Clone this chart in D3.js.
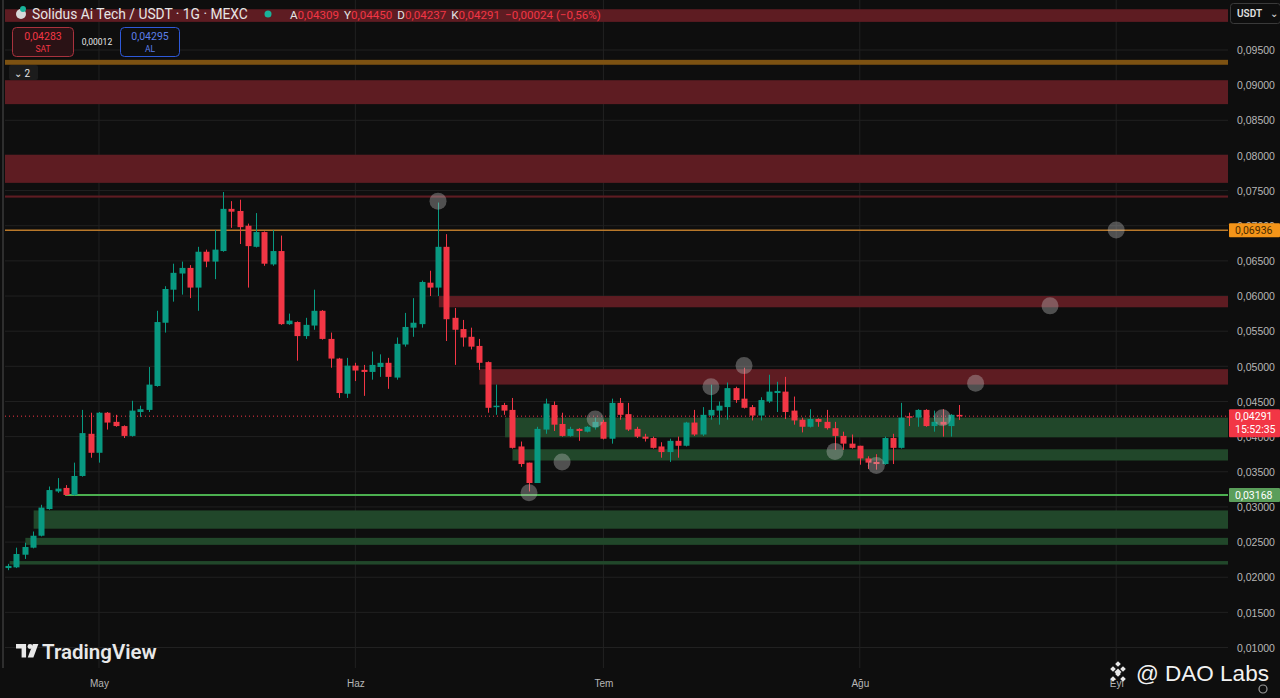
<!DOCTYPE html>
<html><head><meta charset="utf-8">
<script src="https://cdn.jsdelivr.net/npm/d3@7"></script>
<style>
html,body{margin:0;padding:0;background:#0e0e0e;overflow:hidden}
svg{display:block;font-family:Roboto,"Liberation Sans",Arial,sans-serif}
</style></head>
<body>
<svg id="chart" width="1280" height="698"></svg>
<script>
// ---------- DATA ----------
const startDay = "2024-04-20";
const openV  = [.0213,.0214,.0232,.0242,.0259,.0297,.0322,.0327,.0317,.0344,.0404,.0377,.0434,.0421,.0415,.0401,.0435,.0438,.0472,.0562,.0609,.0632,.0640,.0612,.0663,.0649,.0664,.0724,.0721,.0700,.0670,.0691,.0645,.0664,.0560,.0563,.0543,.0558,.0579,.0539,.0511,.0461,.0501,.0495,.0492,.0499,.0505,.0484,.0531,.0555,.0560,.0619,.0612,.0670,.0569,.0553,.0542,.0529,.0506,.0442,.0445,.0438,.0386,.0363,.0334,.0410,.0445,.0418,.0401,.0411,.0407,.0413,.0421,.0397,.0448,.0432,.0411,.0400,.0398,.0386,.0378,.0394,.0387,.0420,.0403,.0430,.0437,.0442,.0469,.0454,.0442,.0430,.0450,.0462,.0464,.0437,.0424,.0414,.0425,.0421,.0412,.0401,.0390,.0387,.0369,.0364,.0361,.0398,.0384,.0429,.0427,.0438,.0415,.0421,.0415,.04309];
const highV  = [.0219,.0242,.0249,.0265,.0303,.0329,.0341,.0331,.0363,.0438,.0434,.0435,.0435,.0431,.0416,.0451,.0444,.0499,.0579,.0614,.0646,.0649,.0644,.0670,.0666,.0694,.0748,.0735,.0737,.0703,.0718,.0692,.0694,.0686,.0575,.0564,.0569,.0609,.0580,.0548,.0512,.0512,.0505,.0502,.0521,.0517,.0512,.0541,.0576,.0597,.0622,.0636,.0733,.0688,.0583,.0566,.0555,.0539,.0507,.0474,.0448,.0455,.0393,.0363,.0414,.0454,.0450,.0434,.0414,.0412,.0415,.0427,.0424,.0454,.0455,.0448,.0414,.0404,.0400,.0392,.0397,.0400,.0421,.0438,.0442,.0474,.0450,.0477,.0471,.0498,.0445,.0456,.0488,.0478,.0485,.0457,.0427,.0439,.0426,.0438,.0421,.0407,.0403,.0387,.0372,.0375,.0400,.0404,.0448,.0434,.0439,.0439,.0437,.0439,.0432,.04450];
const lowV   = [.0210,.0213,.0226,.0241,.0258,.0296,.0320,.0316,.0316,.0343,.0370,.0363,.0410,.0414,.0398,.0400,.0428,.0435,.0471,.0548,.0592,.0602,.0597,.0579,.0641,.0624,.0663,.0697,.0674,.0612,.0669,.0643,.0643,.0559,.0559,.0508,.0539,.0552,.0538,.0498,.0455,.0455,.0479,.0458,.0481,.0485,.0468,.0481,.0528,.0542,.0555,.0600,.0600,.0536,.0502,.0528,.0524,.0495,.0434,.0431,.0431,.0383,.0357,.0322,.0334,.0404,.0408,.0400,.0400,.0394,.0406,.0410,.0396,.0390,.0424,.0408,.0398,.0393,.0383,.0370,.0364,.0370,.0386,.0401,.0401,.0424,.0417,.0424,.0448,.0440,.0423,.0423,.0448,.0435,.0425,.0417,.0406,.0413,.0414,.0410,.0381,.0381,.0383,.0360,.0354,.0353,.0360,.0361,.0383,.0415,.0414,.0414,.0407,.0400,.0400,.04237];
const closeV = [.0216,.0233,.0243,.0259,.0299,.0324,.0326,.0317,.0344,.0405,.0377,.0434,.0420,.0415,.0401,.0437,.0439,.0474,.0563,.0610,.0633,.0640,.0612,.0663,.0649,.0666,.0724,.0720,.0698,.0671,.0691,.0646,.0664,.0560,.0565,.0543,.0559,.0579,.0539,.0511,.0462,.0501,.0494,.0492,.0502,.0505,.0485,.0532,.0556,.0562,.0620,.0612,.0670,.0567,.0552,.0541,.0528,.0505,.0441,.0444,.0437,.0384,.0361,.0334,.0411,.0447,.0417,.0401,.0411,.0408,.0414,.0421,.0397,.0448,.0431,.0410,.0400,.0397,.0384,.0378,.0394,.0387,.0420,.0403,.0431,.0438,.0444,.0469,.0452,.0441,.0430,.0452,.0464,.0465,.0435,.0423,.0414,.0425,.0421,.0412,.0401,.0390,.0384,.0369,.0363,.0361,.0398,.0384,.0427,.0427,.0438,.0415,.0421,.0417,.0431,.04291];

const priceTicks = [0.095,0.09,0.085,0.08,0.075,0.07,0.065,0.06,0.055,0.05,0.045,0.04,0.035,0.03,0.025,0.02,0.015,0.01];
const monthTickDays = ["2024-05-01","2024-06-01","2024-07-01","2024-08-01","2024-09-01"];
const monthLabels = ["May","Haz","Tem","Ağu","Eyl"];

// zones: [top price, bottom price, start candle index (null = full width)]
const redZones   = [[0.1008,0.0990,null],[0.0907,0.0873,null],[0.0801,0.0761,null],[0.0743,0.0740,null],[0.0600,0.0584,52.1],[0.0496,0.0474,57]];
const orangeZones= [[0.0936,0.0929,null]];
const greenZones = [[0.0427,0.0399,60.1],[0.0382,0.0366,61],[0.0295,0.0269,3.1],[0.0256,0.0246,2.1],[0.0223,0.0218,0.2]];
const orangeLevel = 0.06936;
const greenLevel = 0.03168; const greenLevelStart = 6.9;
const lastPrice = 0.04291;
// marker circles: [candle index, price]
const markers = [[52,0.0735],[63,0.0320],[67,0.0364],[71,0.0425],[85,0.0471],[89,0.0501],[100,0.0379],[105,0.0359],[113,0.0427],[117,0.0476],[126,0.0586],[134,0.0694]];

// ---------- SCALES ----------
const W = 1280, H = 698, plotR = 1228, plotB = 668, plotL = 5;
const day = 864e5;
const t0 = Date.parse(startDay + "T00:00:00Z");
const dates = openV.map((_, i) => new Date(t0 + i * day));
const idxDate = i => new Date(t0 + i * day);
const x = d3.scaleUtc()
  .domain([idxDate(-8/8.27), idxDate((plotR - 8)/8.27)])
  .range([0, plotR]);
const y = d3.scaleLinear().domain([0.01, 0.095]).range([647.5, 50]);
const fmt = v => v.toFixed(5).replace('.', ',');

const svg = d3.select("#chart");
svg.append("rect").attr("width", W).attr("height", H).attr("fill", "#0e0e0e");

// grid
const g = svg.append("g");
g.selectAll("line.hg").data(priceTicks).join("line")
  .attr("x1", plotL).attr("x2", plotR).attr("y1", d => y(d)).attr("y2", d => y(d))
  .attr("stroke", "#212121").attr("stroke-width", 1);
g.selectAll("line.vg").data(monthTickDays).join("line")
  .attr("x1", d => x(new Date(d + "T00:00:00Z"))).attr("x2", d => x(new Date(d + "T00:00:00Z")))
  .attr("y1", 0).attr("y2", plotB)
  .attr("stroke", "#212121").attr("stroke-width", 1);

// zones
function zoneX(s){ return s === null ? plotL : x(idxDate(s)); }
const zg = svg.append("g");
zg.selectAll("rect.red").data(redZones).join("rect")
  .attr("x", d => zoneX(d[2])).attr("width", d => plotR - zoneX(d[2]))
  .attr("y", d => y(d[0])).attr("height", d => Math.max(2, y(d[1]) - y(d[0])))
  .attr("fill", "#5e1c22");
zg.selectAll("rect.or").data(orangeZones).join("rect")
  .attr("x", d => zoneX(d[2])).attr("width", d => plotR - zoneX(d[2]))
  .attr("y", d => y(d[0])).attr("height", d => y(d[1]) - y(d[0]))
  .attr("fill", "#7d5212");
zg.selectAll("rect.gr").data(greenZones).join("rect")
  .attr("x", d => zoneX(d[2])).attr("width", d => plotR - zoneX(d[2]))
  .attr("y", d => y(d[0])).attr("height", d => y(d[1]) - y(d[0]))
  .attr("fill", "#21472a");
zg.append("line").attr("x1", plotL).attr("x2", plotR)
  .attr("y1", y(orangeLevel)).attr("y2", y(orangeLevel))
  .attr("stroke", "#b8782a").attr("stroke-width", 1.5);
zg.append("line").attr("x1", x(idxDate(greenLevelStart))).attr("x2", plotR)
  .attr("y1", y(greenLevel)).attr("y2", y(greenLevel))
  .attr("stroke", "#4caf50").attr("stroke-width", 2);
zg.append("line").attr("x1", plotL).attr("x2", plotR)
  .attr("y1", y(lastPrice)).attr("y2", y(lastPrice))
  .attr("stroke", "#f23645").attr("stroke-width", 1).attr("stroke-dasharray", "1,3");

// candles
const up = "#089981", dn = "#f23645";
const cg = svg.append("g");
const cdata = dates.map((d, i) => ({d, o: openV[i], h: highV[i], l: lowV[i], c: closeV[i]}));
cg.selectAll("line.w").data(cdata).join("line")
  .attr("x1", d => Math.round(x(d.d)) + 0.5).attr("x2", d => Math.round(x(d.d)) + 0.5)
  .attr("y1", d => y(d.h)).attr("y2", d => y(d.l))
  .attr("stroke", d => d.c >= d.o ? up : dn).attr("stroke-width", 1);
cg.selectAll("rect.b").data(cdata).join("rect")
  .attr("x", d => Math.round(x(d.d)) - 2.5).attr("width", 6)
  .attr("y", d => y(Math.max(d.o, d.c)))
  .attr("height", d => Math.max(1.5, Math.abs(y(d.o) - y(d.c))))
  .attr("fill", d => d.c >= d.o ? up : dn);

// markers
svg.append("g").selectAll("circle").data(markers).join("circle")
  .attr("cx", d => x(idxDate(d[0]))).attr("cy", d => y(d[1])).attr("r", 8.5)
  .attr("fill", "rgba(190,190,190,0.38)");

// left border
svg.append("rect").attr("x", 2).attr("y", 0).attr("width", 2).attr("height", plotB).attr("fill", "#2e2e2e");

// price axis
const yAxis = d3.axisRight(y).tickValues(priceTicks).tickFormat(fmt).tickSize(0).tickPadding(0);
const ya = svg.append("g").attr("transform", `translate(${plotR + 9},0)`).call(yAxis);
ya.select(".domain").remove();
ya.selectAll("text").attr("fill", "#b7b7b7").attr("font-size", 10.5).attr("dy", "0.35em");

// time axis
const xAxis = d3.axisBottom(x).tickValues(monthTickDays.map(d => new Date(d + "T00:00:00Z")))
  .tickFormat((d, i) => monthLabels[i]).tickSize(0).tickPadding(0);
const xa = svg.append("g").attr("transform", `translate(0,${plotB + 15})`).call(xAxis);
xa.select(".domain").remove();
xa.selectAll("text").attr("fill", "#b7b7b7").attr("font-size", 10).attr("dy", "0.35em");

// price labels
function priceLabel(v, fill, textFill, lines, h){
  const cy = y(v);
  const gl = svg.append("g");
  gl.append("rect").attr("x", plotR + 1).attr("y", cy - 7).attr("width", W - plotR - 1).attr("height", h)
    .attr("fill", fill).attr("rx", 1);
  lines.forEach((t, k) => gl.append("text").attr("x", plotR + 7).attr("y", cy + 4 + k * 13)
    .attr("fill", textFill).attr("font-size", 10.5).text(t));
}
priceLabel(orangeLevel, "#f39419", "#4a2b00", [fmt(orangeLevel)], 14);
priceLabel(lastPrice, "#f23645", "#ffffff", [fmt(lastPrice), "15:52:35"], 28);
priceLabel(greenLevel, "#5a9e5a", "#ffffff", [fmt(greenLevel)], 14);

// USDT button
svg.append("rect").attr("x", 1230.5).attr("y", 3.5).attr("width", 50).attr("height", 20).attr("rx", 3)
  .attr("fill", "#0e0e0e").attr("stroke", "#3a3a3a");
svg.append("text").attr("x", 1237).attr("y", 17).attr("fill", "#e0e0e0").attr("font-size", 10).attr("font-weight", 600).text("USDT");
svg.append("text").attr("x", 1270).attr("y", 17).attr("fill", "#e0e0e0").attr("font-size", 10).text("⌄");

// header
const hd = svg.append("g");
hd.append("circle").attr("cx", 21).attr("cy", 14).attr("r", 5).attr("fill", "#d8d8d8");
hd.append("circle").attr("cx", 23).attr("cy", 9).attr("r", 3).attr("fill", "#19b39a");
hd.append("text").attr("x", 32).attr("y", 19).attr("fill", "#e6e6e6").attr("font-size", 13.8)
  .text("Solidus Ai Tech / USDT · 1G · MEXC");
hd.append("circle").attr("cx", 268).attr("cy", 14).attr("r", 3.5).attr("fill", "#19b39a");
const ohlc = hd.append("text").attr("x", 290).attr("y", 18.5).attr("font-size", 11.6);
[["A","0,04309"],["Y","0,04450"],["D","0,04237"],["K","0,04291"]].forEach(([k, v], i) => {
  ohlc.append("tspan").attr("fill", "#e6e6e6").attr("dx", i ? 5 : 0).text(k);
  ohlc.append("tspan").attr("fill", "#f23645").text(v);
});
ohlc.append("tspan").attr("fill", "#f23645").attr("dx", 5).text("−0,00024 (−0,56%)");

// buy / sell buttons
svg.append("rect").attr("x", 12.5).attr("y", 27.5).attr("width", 61).attr("height", 29).attr("rx", 4)
  .attr("fill", "#2a1215").attr("stroke", "#a8323d");
svg.append("text").attr("x", 43).attr("y", 40).attr("text-anchor", "middle").attr("fill", "#f23645").attr("font-size", 10.5).text("0,04283");
svg.append("text").attr("x", 43).attr("y", 52).attr("text-anchor", "middle").attr("fill", "#f23645").attr("font-size", 8.5).text("SAT");
svg.append("text").attr("x", 97).attr("y", 45).attr("text-anchor", "middle").attr("fill", "#e6e6e6").attr("font-size", 8.5).text("0,00012");
svg.append("rect").attr("x", 120.5).attr("y", 27.5).attr("width", 59).attr("height", 29).attr("rx", 4)
  .attr("fill", "#0e0e0e").attr("stroke", "#2e59d9");
svg.append("text").attr("x", 150).attr("y", 40).attr("text-anchor", "middle").attr("fill", "#5c7ee8").attr("font-size", 10.5).text("0,04295");
svg.append("text").attr("x", 150).attr("y", 52).attr("text-anchor", "middle").attr("fill", "#5c7ee8").attr("font-size", 8.5).text("AL");
svg.append("rect").attr("x", 9).attr("y", 65).attr("width", 29).attr("height", 15).attr("rx", 2).attr("fill", "#1c1c1c");
svg.append("text").attr("x", 14).attr("y", 76.5).attr("fill", "#e6e6e6").attr("font-size", 10).text("⌄ 2");

// TradingView logo
const tv = svg.append("g").attr("transform", "translate(16,644) scale(1.12)");
tv.append("path").attr("d", "M0 0h9v12h-4v-8h-5z").attr("fill", "#e8e8e8");
tv.append("circle").attr("cx", 12.5).attr("cy", 2.2).attr("r", 2.2).attr("fill", "#e8e8e8");
tv.append("path").attr("d", "M15 0h5l-4.5 12h-5z").attr("fill", "#e8e8e8");
svg.append("text").attr("x", 42).attr("y", 659).attr("fill", "#e8e8e8").attr("font-size", 20.5).attr("font-weight", 600)
  .text("TradingView");

// watermark
const bn = svg.append("g").attr("transform", "translate(1118,672)").attr("fill", "#e8e8e8");
[[0,-8],[-5,-3],[5,-3],[0,2],[-5,7],[5,7]].forEach(([dx, dy]) =>
  bn.append("rect").attr("x", dx - 2).attr("y", dy - 2).attr("width", 4).attr("height", 4).attr("transform", `rotate(45 ${dx} ${dy})`));
bn.append("rect").attr("x", -2.5).attr("y", -2.5).attr("width", 5).attr("height", 5).attr("transform", "rotate(45 0 0)");
svg.append("text").attr("x", 1136).attr("y", 681).attr("fill", "#f2f2f2").attr("font-size", 22.5)
  .attr("font-family", "'Liberation Sans',Arial,sans-serif").text("@ DAO Labs");
svg.append("circle").attr("cx", 1263).attr("cy", 689).attr("r", 4).attr("fill", "none").attr("stroke", "#9a9a9a").attr("stroke-width", 1.2);
</script>
</body></html>
